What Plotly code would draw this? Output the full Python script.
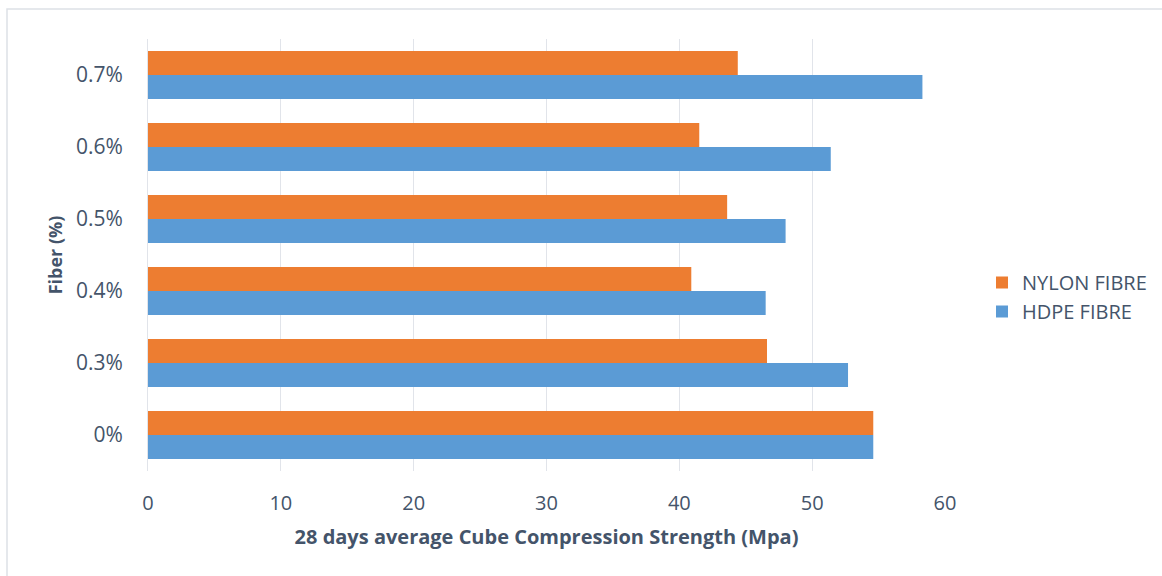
import plotly.graph_objects as go

# Fibre content categories (bottom to top)
fiber_pct = ["0%", "0.3%", "0.4%", "0.5%", "0.6%", "0.7%"]

# 28-day average cube compression strength (MPa)
hdpe_strength = [54.6, 52.7, 46.5, 48.0, 51.4, 58.3]
nylon_strength = [54.6, 46.6, 40.9, 43.6, 41.5, 44.4]

x_ticks = [0, 10, 20, 30, 40, 50, 60]

text_color = "#44546A"
grid_color = "#E1E4EA"
font_family = "Open Sans, Liberation Sans, sans-serif"

fig = go.Figure()
fig.add_trace(go.Bar(
    y=fiber_pct, x=hdpe_strength, orientation="h", name="HDPE FIBRE",
    marker=dict(color="#5B9BD5", line=dict(width=0)),
))
fig.add_trace(go.Bar(
    y=fiber_pct, x=nylon_strength, orientation="h", name="NYLON FIBRE",
    marker=dict(color="#ED7D31", line=dict(width=0)),
))

W, H = 1162, 576
ml, mr, mt, mb = 148, 217, 39, 105
pw, ph = W - ml - mr, H - mt - mb

fig.update_layout(
    width=W, height=H,
    margin=dict(l=ml, r=mr, t=mt, b=mb, pad=0),
    paper_bgcolor="white", plot_bgcolor="white",
    barmode="group", bargap=0.333, bargroupgap=0,
    font=dict(family=font_family, color=text_color),
    showlegend=True,
    legend=dict(
        traceorder="reversed",
        xref="container", yref="container",
        x=982 / W, xanchor="left",
        y=1 - 297 / H, yanchor="middle",
        font=dict(size=20, color=text_color),
        itemsizing="constant", tracegroupgap=0,
        bgcolor="rgba(0,0,0,0)",
    ),
    xaxis=dict(
        range=[0, 60], tickvals=x_ticks, showgrid=True, gridcolor=grid_color,
        gridwidth=1, zeroline=False, showline=False,
        tickfont=dict(size=20, color=text_color), ticklabelstandoff=18,
        title=dict(text="<b>28 days average Cube Compression Strength (Mpa)</b>",
                   font=dict(size=20, color=text_color), standoff=14),
        fixedrange=True,
    ),
    yaxis=dict(
        type="category", categoryorder="array", categoryarray=fiber_pct,
        showgrid=False, zeroline=False, showline=True, linecolor=grid_color,
        linewidth=1, tickfont=dict(size=21, color=text_color), ticklabelstandoff=20,
        title=dict(text="<b>Fiber (%)</b>", font=dict(size=18, color=text_color),
                   standoff=8),
        fixedrange=True,
    ),
    shapes=[dict(
        type="rect", xref="paper", yref="paper",
        x0=(7 - ml) / pw, x1=(W + 20 - ml) / pw,
        y0=(H - mb - (H + 20)) / ph, y1=(H - mb - 9) / ph,
        line=dict(color="#DDE1E6", width=1.5), fillcolor="rgba(0,0,0,0)",
        layer="below",
    )],
)

fig.write_html("out.html")
